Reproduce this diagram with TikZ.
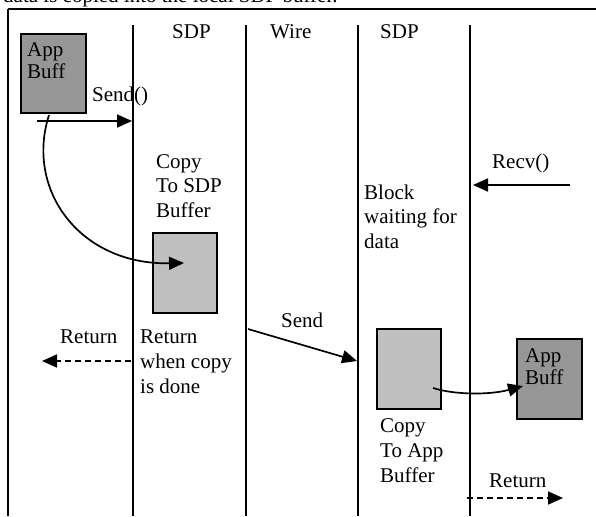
\documentclass[tikz,border=0pt]{standalone}
\usepackage{fontspec}
\setmainfont{Liberation Serif}
\usetikzlibrary{arrows.meta}
\definecolor{darkbuf}{RGB}{150,150,150}
\definecolor{lightbuf}{RGB}{192,192,192}
\newcommand\mylines[2]{\vtop{\baselineskip=#1\lineskiplimit=-100pt\halign{##\hfil\cr #2\cr}}}
\begin{document}
\begin{tikzpicture}[x=1pt,y=-1pt,
  txt/.style={anchor=base west,inner sep=0pt,font=\fontsize{21}{24}\selectfont},
  life/.style={line width=1.6pt},
  buf/.style={draw,line width=1.7pt,minimum width=#1,inner sep=0pt},
  arr/.style={line width=1.7pt,-{Triangle[length=15pt,width=13pt]}},
  darr/.style={arr,dash pattern=on 6pt off 4pt}]
\useasboundingbox (0,0) rectangle (596,516);
\clip (0,0) rectangle (596,516);
% caption remnant
\node[txt] (cap) at (3,2.5) {data is copied into the local SDP buffer.};
% frame
\coordinate (ftl) at (8,9);
\coordinate (ftr) at (596,9);
\coordinate (fbl) at (8,516);
\draw[line width=2pt] (ftr) -- (ftl);
\draw[line width=1.6pt] (ftl) -- (fbl);
% lifelines
\foreach \n/\x in {a/133,b/246,c/358,d/470}{
  \coordinate (\n top) at (\x,25);
  \coordinate (\n bot) at (\x,516);
  \draw[life] (\n top) -- (\n bot);
}
% headers
\node[txt] (h1) at (172,39) {SDP};
\node[txt] (h2) at (270,39) {Wire};
\node[txt] (h3) at (380,39) {SDP};
% buffers
\node[buf=65pt,minimum height=79pt,fill=darkbuf] (appL) at (53.5,73.5) {};
\node[txt] (appLt) at (27,57) {\mylines{22pt}{App\cr Buff}};
\node[buf=64pt,minimum height=80pt,fill=lightbuf] (sdpbuf) at (185,273) {};
\node[buf=64pt,minimum height=80pt,fill=lightbuf] (appbuf) at (409,369) {};
\node[buf=65pt,minimum height=80pt,fill=darkbuf] (appR) at (549.5,379) {};
\node[txt] (appRt) at (525,362) {\mylines{22pt}{App\cr Buff}};
% texts
\node[txt] (sendcall) at (92,102) {Send()};
\node[txt] (copysdp) at (156,168) {\mylines{24.5pt}{Copy\cr To SDP\cr Buffer}};
\node[txt] (retL) at (60,343) {Return};
\node[txt] (retdone) at (140,343) {\mylines{25pt}{Return\cr when copy\cr is done}};
\node[txt] (sendw) at (281,327) {Send};
\node[txt] (block) at (364,199) {\mylines{24.5pt}{Block\cr waiting for\cr data}};
\node[txt] (recv) at (492,168) {Recv()};
\node[txt] (copyapp) at (380,432) {\mylines{25pt}{Copy\cr To App\cr Buffer}};
\node[txt] (retR) at (489,487) {Return};
% connectors
\coordinate (s0) at (37,121);
\coordinate (s1) at (132,121);
\draw[arr] (s0) -- (s1);
\coordinate (c0) at (49,115);
\coordinate (c1) at (184,263);
\draw[arr] (c0) .. controls (25,190) and (80,265) .. (c1);
\coordinate (r0) at (131,361);
\coordinate (r1) at (42,361);
\draw[darr] (r0) -- (r1);
\coordinate (w0) at (248,329);
\coordinate (w1) at (357,361);
\draw[arr] (w0) -- (w1);
\coordinate (v0) at (570,185);
\coordinate (v1) at (473,185);
\draw[arr] (v0) -- (v1);
\coordinate (k0) at (433,388);
\coordinate (k1) at (523,386);
\draw[arr] (k0) .. controls (455,395) and (490,395) .. (k1);
\coordinate (q0) at (467,498);
\coordinate (q1) at (563,498);
\draw[darr] (q0) -- (q1);
\end{tikzpicture}
\end{document}
